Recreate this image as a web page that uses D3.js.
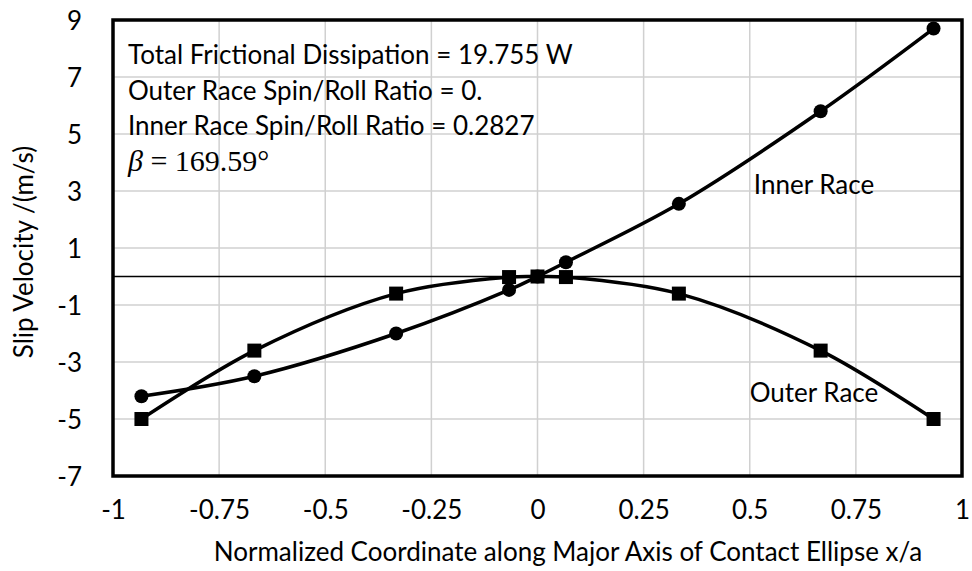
<!DOCTYPE html>
<html>
<head>
<meta charset="utf-8">
<script src="https://cdn.jsdelivr.net/npm/d3@7"></script>
<style>
  body { margin: 0; background: #fff; }
  text { font-family: Lato, "Open Sans", sans-serif; fill: #000; }
</style>
</head>
<body>
<div id="chart"></div>
<script>
var xPos = [-0.933, -0.667, -0.333, -0.067, 0, 0.067, 0.333, 0.667, 0.933];
var innerRace = [-4.2, -3.5, -2.0, -0.47, 0, 0.5, 2.55, 5.8, 8.7];
var outerRace = [-5.0, -2.6, -0.6, -0.02, 0, -0.02, -0.6, -2.6, -5.0];
var xTicks = [-1, -0.75, -0.5, -0.25, 0, 0.25, 0.5, 0.75, 1];
var yTicks = [-7, -5, -3, -1, 1, 3, 5, 7, 9];
var notes = [
  "Total Frictional Dissipation = 19.755 W",
  "Outer Race Spin/Roll Ratio = 0.",
  "Inner Race Spin/Roll Ratio = 0.2827"
];

var W = 972, H = 571;
var margin = {left: 113, right: 10, top: 20, bottom: 95};

var svg = d3.select("#chart").append("svg")
  .attr("width", W)
  .attr("height", H);

var x = d3.scaleLinear().domain([-1, 1]).range([margin.left, W - margin.right]);
var y = d3.scaleLinear().domain([-7, 9]).range([H - margin.bottom, margin.top]);

// gridlines
svg.append("g").selectAll("line.vg")
  .data(xTicks)
  .enter().append("line")
  .attr("x1", d => x(d)).attr("x2", d => x(d))
  .attr("y1", y(9)).attr("y2", y(-7))
  .attr("stroke", "#d0d0d0").attr("stroke-width", 1.5);
svg.append("g").selectAll("line.hg")
  .data(yTicks)
  .enter().append("line")
  .attr("x1", x(-1)).attr("x2", x(1))
  .attr("y1", d => y(d)).attr("y2", d => y(d))
  .attr("stroke", "#d0d0d0").attr("stroke-width", 1.5);

// zero line
svg.append("line")
  .attr("x1", x(-1)).attr("x2", x(1))
  .attr("y1", y(0)).attr("y2", y(0))
  .attr("stroke", "#000").attr("stroke-width", 1.5);

// axes (labels only), hyphen minus like the original
var fmt = function(d) { return String(d); };
var xAxis = svg.append("g")
  .attr("transform", "translate(0," + (y(-7) + 22) + ")")
  .call(d3.axisBottom(x).tickValues(xTicks).tickSize(0).tickFormat(fmt));
xAxis.select(".domain").remove();
xAxis.selectAll("text").style("font-size", "26px");

var yAxis = svg.append("g")
  .attr("transform", "translate(" + (x(-1) - 28) + ",0)")
  .call(d3.axisLeft(y).tickValues(yTicks).tickSize(0).tickFormat(fmt));
yAxis.select(".domain").remove();
yAxis.selectAll("text").style("font-size", "26px").attr("dy", "0.35em");

// frame
svg.append("rect")
  .attr("x", x(-1)).attr("y", y(9))
  .attr("width", x(1) - x(-1)).attr("height", y(-7) - y(9))
  .attr("fill", "none").attr("stroke", "#000").attr("stroke-width", 3.5);

var pts = function(vals) { return xPos.map((v, i) => [v, vals[i]]); };
var line = d3.line()
  .x(d => x(d[0])).y(d => y(d[1]))
  .curve(d3.curveCatmullRom.alpha(0.5));

svg.append("path").datum(pts(outerRace))
  .attr("d", line).attr("fill", "none").attr("stroke", "#000").attr("stroke-width", 3.5);
svg.append("path").datum(pts(innerRace))
  .attr("d", line).attr("fill", "none").attr("stroke", "#000").attr("stroke-width", 3.5);

svg.append("g").selectAll("rect")
  .data(pts(outerRace))
  .enter().append("rect")
  .attr("x", d => x(d[0]) - 7).attr("y", d => y(d[1]) - 7)
  .attr("width", 14).attr("height", 14).attr("fill", "#000");

svg.append("g").selectAll("circle")
  .data(pts(innerRace))
  .enter().append("circle")
  .attr("cx", d => x(d[0])).attr("cy", d => y(d[1]))
  .attr("r", 7).attr("fill", "#000");

// annotations
svg.append("g").selectAll("text")
  .data(notes)
  .enter().append("text")
  .attr("x", 128).attr("y", (d, i) => 64 + i * 35.5)
  .style("font-size", "26px")
  .text(d => d);

var beta = svg.append("text").attr("x", 128).attr("y", 171)
  .style("font-family", "'Liberation Serif', serif").style("font-size", "30px");
beta.append("tspan").style("font-style", "italic").style("font-family", "'Liberation Serif', serif").text("\u03b2");
beta.append("tspan").style("font-family", "'Liberation Serif', serif").text(" = 169.59\u00b0");

svg.append("text").attr("x", 814).attr("y", 194)
  .attr("text-anchor", "middle").style("font-size", "26px").text("Inner Race");
svg.append("text").attr("x", 814).attr("y", 402)
  .attr("text-anchor", "middle").style("font-size", "26px").text("Outer Race");

// axis titles
svg.append("text")
  .attr("x", 568).attr("y", 561)
  .attr("text-anchor", "middle").style("font-size", "26px")
  .text("Normalized Coordinate along Major Axis of Contact Ellipse x/a");
svg.append("text")
  .attr("transform", "translate(33,252) rotate(-90)")
  .attr("text-anchor", "middle").style("font-size", "26px")
  .text("Slip Velocity /(m/s)");
</script>
</body>
</html>
